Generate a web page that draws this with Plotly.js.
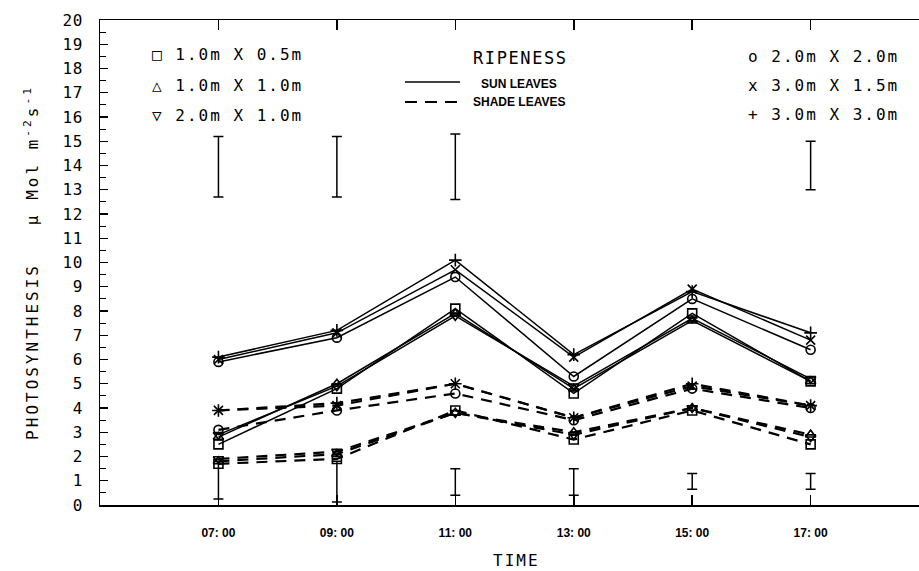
<!DOCTYPE html>
<html>
<head>
<meta charset="utf-8">
<script src="https://cdn.plot.ly/plotly-3.0.1.min.js"></script>
<style>
  html, body { margin: 0; padding: 0; background: #fff; }
  #chart { width: 919px; height: 571px; }
  .ytitle { letter-spacing: 3px; }
  .ytick text { letter-spacing: 0.8px; }
</style>
</head>
<body>
<div id="chart"></div>
<script>
// Sampling times (hours) and their tick labels
const times = [7, 9, 11, 13, 15, 17];
const timeLabels = ['07: 00', '09: 00', '11: 00', '13: 00', '15: 00', '17: 00'];

// Plant spacings and their plotting symbols
const spacings = ['1.0m X 0.5m', '1.0m X 1.0m', '2.0m X 1.0m', '2.0m X 2.0m', '3.0m X 1.5m', '3.0m X 3.0m'];
const symbols = ['square-open', 'triangle-up-open', 'triangle-down-open', 'circle-open', 'x-thin-open', 'cross-thin-open'];
const legendGlyphs = ['\u25A1', '\u25B3', '\u25BD', 'o', 'x', '+'];

// Photosynthesis of sun leaves (µmol m-2 s-1)
const sun_1x05 = [2.5, 4.8, 8.1, 4.6, 7.9, 5.1];
const sun_1x1  = [2.8, 5.0, 7.9, 4.8, 7.6, 5.1];
const sun_2x1  = [2.9, 4.9, 7.8, 4.9, 7.7, 5.2];
const sun_2x2  = [5.9, 6.9, 9.4, 5.3, 8.5, 6.4];
const sun_3x15 = [6.0, 7.1, 9.7, 6.1, 8.9, 6.8];
const sun_3x3  = [6.1, 7.2, 10.1, 6.2, 8.8, 7.1];

// Photosynthesis of shade leaves (µmol m-2 s-1)
const shade_1x05 = [1.7, 1.9, 3.9, 2.7, 3.9, 2.5];
const shade_1x1  = [1.8, 2.1, 3.8, 3.0, 4.0, 2.9];
const shade_2x1  = [1.9, 2.2, 3.8, 2.9, 4.0, 2.8];
const shade_2x2  = [3.1, 3.9, 4.6, 3.5, 4.8, 4.0];
const shade_3x15 = [3.9, 4.1, 5.0, 3.6, 4.9, 4.1];
const shade_3x3  = [3.9, 4.2, 5.0, 3.6, 5.0, 4.1];

// Least significant difference bars (low / high ends)
const upperBarTimes = [7, 9, 11, 17];
const upperBarLow   = [12.7, 12.7, 12.6, 13.0];
const upperBarHigh  = [15.2, 15.2, 15.3, 15.0];
const lowerBarTimes = [7, 9, 11, 13, 15, 17];
const lowerBarLow   = [0.25, 0.12, 0.4, 0.4, 0.65, 0.65];
const lowerBarHigh  = [1.8, 1.8, 1.5, 1.5, 1.3, 1.3];

const sunSeries = [sun_1x05, sun_1x1, sun_2x1, sun_2x2, sun_3x15, sun_3x3];
const shadeSeries = [shade_1x05, shade_1x1, shade_2x1, shade_2x2, shade_3x15, shade_3x3];

const traces = [];

function seriesTrace(values, i, shade) {
  return {
    type: 'scatter', mode: 'lines+markers',
    x: times, y: values, name: spacings[i] + (shade ? ' shade' : ' sun'),
    line: shade ? { color: '#000', width: 2.2, dash: '11px,8px' } : { color: '#000', width: 1.5 },
    marker: { symbol: symbols[i], size: 9, color: '#000', line: { color: '#000', width: 1.6 } },
    showlegend: false, hoverinfo: 'x+y+name'
  };
}
shadeSeries.forEach((v, i) => traces.push(seriesTrace(v, i, true)));
sunSeries.forEach((v, i) => traces.push(seriesTrace(v, i, false)));

function barTrace(xs, lo, hi) {
  const mid = lo.map((l, k) => (l + hi[k]) / 2);
  return {
    type: 'scatter', mode: 'markers', x: xs, y: mid,
    marker: { size: 1, color: 'rgba(0,0,0,0)' },
    error_y: {
      type: 'data', symmetric: false,
      array: hi.map((h, k) => h - mid[k]),
      arrayminus: lo.map((l, k) => mid[k] - l),
      color: '#000', thickness: 1.5, width: 5
    },
    showlegend: false, hoverinfo: 'skip'
  };
}
traces.push(barTrace(upperBarTimes, upperBarLow, upperBarHigh));
traces.push(barTrace(lowerBarTimes, lowerBarLow, lowerBarHigh));

// Pixel helpers for placing the key inside the plot frame
const L = 100, R = 919, T = 20, B = 505;
const px = x => (x - L) / (R - L);
const py = y => (B - y) / (B - T);

const plotter = 'DejaVu Sans Mono, monospace';
const wide = s => '<span style="letter-spacing:2px">' + s + '</span>';

const annotations = [];
[0, 1, 2].forEach((i, r) => {
  annotations.push({
    xref: 'paper', yref: 'paper', x: px(150), y: py([55, 86, 116][r]),
    xanchor: 'left', yanchor: 'middle', showarrow: false,
    text: wide(legendGlyphs[i] + ' ' + spacings[i]),
    font: { family: plotter, size: 16, color: '#000' }
  });
});
[3, 4, 5].forEach((i, r) => {
  annotations.push({
    xref: 'paper', yref: 'paper', x: px(746), y: py([57, 86, 115][r]),
    xanchor: 'left', yanchor: 'middle', showarrow: false,
    text: wide(legendGlyphs[i] + ' ' + spacings[i]),
    font: { family: plotter, size: 16, color: '#000' }
  });
});
annotations.push({
  xref: 'paper', yref: 'paper', x: px(471), y: py(58), xanchor: 'left', yanchor: 'middle',
  showarrow: false, text: '<span style="letter-spacing:1.6px">RIPENESS</span>',
  font: { family: plotter, size: 17, color: '#000' }
});
annotations.push({
  xref: 'paper', yref: 'paper', x: px(479), y: py(84), xanchor: 'left', yanchor: 'middle',
  showarrow: false, text: 'SUN LEAVES',
  font: { family: 'Liberation Sans, Arial, sans-serif', size: 12, weight: 'bold', color: '#000' }
});
annotations.push({
  xref: 'paper', yref: 'paper', x: px(471), y: py(102), xanchor: 'left', yanchor: 'middle',
  showarrow: false, text: 'SHADE LEAVES',
  font: { family: 'Liberation Sans, Arial, sans-serif', size: 12, weight: 'bold', color: '#000' }
});
annotations.push({
  xref: 'paper', yref: 'paper', x: px(516), y: py(560), xanchor: 'center', yanchor: 'middle',
  showarrow: false, text: wide('TIME'),
  font: { family: plotter, size: 16, color: '#000' }
});

const shapes = [
  { type: 'line', xref: 'paper', yref: 'paper', x0: px(405), x1: px(460), y0: py(82), y1: py(82),
    line: { color: '#000', width: 1.5 } },
  { type: 'line', xref: 'paper', yref: 'paper', x0: px(405), x1: px(460), y0: py(102), y1: py(102),
    line: { color: '#000', width: 2, dash: '12px,8px' } }
];

const layout = {
  width: 919, height: 571,
  margin: { l: L, r: 919 - R, t: T, b: 571 - B },
  paper_bgcolor: '#fff', plot_bgcolor: '#fff',
  showlegend: false,
  xaxis: {
    range: [5, 18.83], tickvals: times, ticktext: timeLabels,
    ticks: 'inside', ticklen: 10, tickwidth: 1.5, tickcolor: '#000',
    showline: true, linecolor: '#000', linewidth: 1.5, mirror: 'ticks',
    showgrid: false, zeroline: false,
    tickfont: { family: 'Liberation Sans, Arial, sans-serif', size: 12, weight: 'bold', color: '#000' },
    ticklabelstandoff: 16
  },
  yaxis: {
    range: [0, 20], dtick: 1, tick0: 0,
    ticks: 'inside', ticklen: 8, tickwidth: 1.2, tickcolor: '#000',
    minor: { dtick: 0.5, ticks: 'inside', ticklen: 6, tickwidth: 1.2, tickcolor: '#000' },
    showline: true, linecolor: '#000', linewidth: 1.5,
    showgrid: false, zeroline: false,
    tickfont: { family: plotter, size: 16, color: '#000' },
    ticklabelstandoff: 12,
    title: {
      text: 'PHOTOSYNTHESIS\u00A0\u00A0\u00A0\u00B5 Mol m<sup>-2</sup>s<sup>-1</sup>',
      font: { family: plotter, size: 16, color: '#000' },
      standoff: 20
    }
  },
  annotations: annotations,
  shapes: shapes
};

Plotly.newPlot('chart', traces, layout, { displayModeBar: false, staticPlot: true });
</script>
</body>
</html>
